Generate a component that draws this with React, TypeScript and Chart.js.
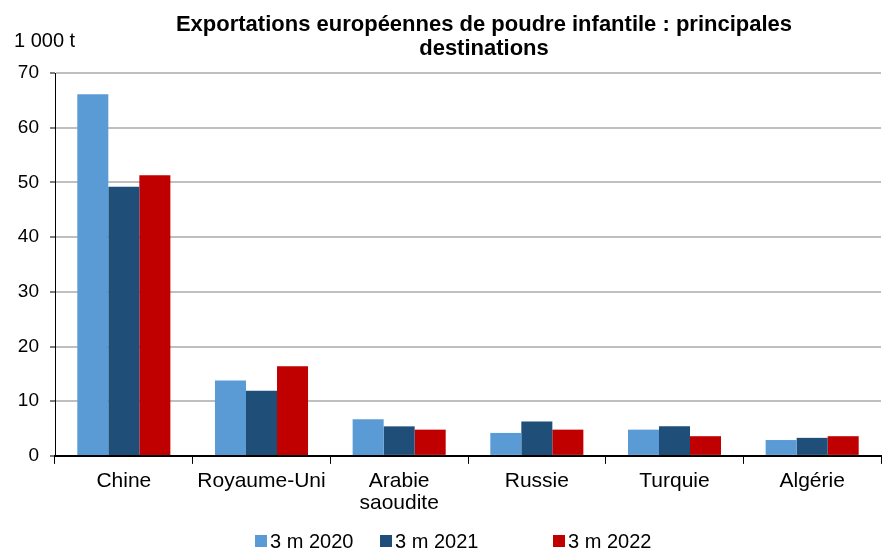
import React, { useEffect, useRef } from "react";
import { Chart, registerables } from "chart.js";

Chart.register(...registerables);

const categories: (string | string[])[] = ["Chine", "Royaume-Uni", ["Arabie", "saoudite"], "Russie", "Turquie", "Algérie"];
const seriesNames = ["3 m 2020", "3 m 2021", "3 m 2022"];
const v2020 = [66.1, 13.8, 6.7, 4.2, 4.8, 2.9];
const v2021 = [49.2, 11.9, 5.4, 6.3, 5.4, 3.3];
const v2022 = [51.3, 16.4, 4.8, 4.8, 3.6, 3.6];
const colors = ["#5B9BD5", "#1F4E79", "#C00000"];
const titleLines = ["Exportations européennes de poudre infantile : principales", "destinations"];
const unitLabel = "1 000 t";

const FONT = "'Liberation Sans', Arial, sans-serif";

const titlePlugin = {
  id: "customTitle",
  afterDraw(chart: any) {
    const ctx = chart.ctx;
    ctx.save();
    ctx.fillStyle = "#000";
    ctx.textAlign = "center";
    ctx.textBaseline = "middle";
    ctx.font = `bold 22px ${FONT}`;
    ctx.fillText(titleLines[0], 484, 25);
    ctx.fillText(titleLines[1], 484, 49);
    ctx.textAlign = "left";
    ctx.font = `20px ${FONT}`;
    ctx.fillText(unitLabel, 14, 41);
    // legend
    ctx.font = `20px ${FONT}`;
    const y = 541;
    const xs = [255, 380, 553];
    chart.data.datasets.forEach((ds: any, i: number) => {
      ctx.fillStyle = ds.backgroundColor;
      ctx.fillRect(xs[i], y - 6, 12, 12);
      ctx.fillStyle = "#000";
      ctx.fillText(ds.label, xs[i] + 15, y + 1);
    });
    ctx.restore();
  },
};

export default function App() {
  const ref = useRef<HTMLCanvasElement>(null);
  useEffect(() => {
    if (!ref.current) return;
    const data = [v2020, v2021, v2022];
    const chart = new Chart(ref.current, {
      type: "bar",
      data: {
        labels: categories,
        datasets: seriesNames.map((n, i) => ({
          label: n,
          data: data[i],
          backgroundColor: colors[i],
          borderWidth: 0,
          categoryPercentage: 0.676,
          barPercentage: 1,
        })),
      },
      options: {
        animation: false,
        responsive: false,
        maintainAspectRatio: false,
        layout: { padding: { top: 73, right: 1, left: 0, bottom: 29 } },
        plugins: {
          title: { display: false },
          tooltip: { enabled: false },
          legend: { display: false },
        },
        scales: {
          x: {
            grid: { drawOnChartArea: false, drawTicks: true, tickLength: 8, color: "#000", lineWidth: 1 },
            border: { color: "#000", width: 2 },
            ticks: { color: "#000", font: { family: FONT, size: 21, lineHeight: 1.05 }, padding: 6, maxRotation: 0, autoSkip: false },
          },
          y: {
            min: 0,
            max: 70,
            afterFit: (s: any) => { s.width = 55; },
            grid: { color: "#BFBFBF", lineWidth: 2, tickLength: 5, tickColor: "#000", tickWidth: 1 },
            border: { color: "#000", width: 1 },
            ticks: { stepSize: 10, color: "#000", font: { family: FONT, size: 19 }, padding: 11 },
          },
        },
      },
      plugins: [titlePlugin],
    } as any);
    return () => chart.destroy();
  }, []);
  return (
    <div style={{ position: "fixed", left: 0, top: 0, width: 882, height: 549, background: "#fff" }}>
      <canvas ref={ref} width={882} height={549} style={{ width: 882, height: 549 }} />
    </div>
  );
}
